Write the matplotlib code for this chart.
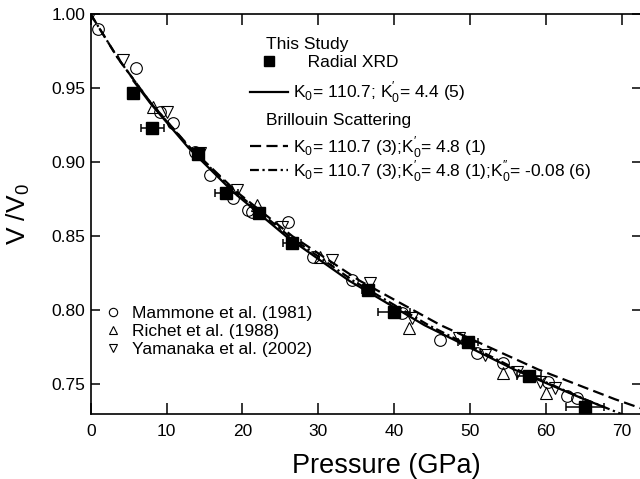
import numpy as np
import matplotlib.pyplot as plt
from matplotlib.lines import Line2D

plt.rcParams['font.family'] = ['Liberation Sans', 'DejaVu Sans']
plt.rcParams['mathtext.fontset'] = 'custom'
plt.rcParams['mathtext.rm'] = 'Liberation Sans'

# Radial XRD (this study), P in GPa with horizontal error
xrd_p = [5.6, 8.1, 14.2, 17.9, 22.2, 26.5, 36.5, 40.0, 49.7, 57.8, 65.2]
xrd_v = [0.947, 0.9234, 0.9056, 0.879, 0.8658, 0.8453, 0.8140, 0.7988, 0.7788, 0.7560, 0.7345]
xrd_perr = [0.0, 1.5, 0.4, 1.5, 0.5, 1.2, 0.8, 2.1, 1.3, 1.6, 2.5]

# literature data
mam_p = [0.9, 6.0, 9.1, 10.9, 13.75, 15.75, 18.8, 20.8, 21.2, 26.05, 29.35, 34.4,
         41.0, 46.05, 50.9, 54.4, 60.3, 62.75, 64.1]
mam_v = [0.990, 0.9635, 0.9342, 0.9268, 0.9072, 0.8914, 0.8757, 0.8678, 0.8666, 0.860,
         0.8362, 0.8205, 0.798, 0.780, 0.771, 0.7642, 0.7518, 0.742, 0.741]
ric_p = [8.2, 21.9, 30.2, 42.0, 54.3, 60.0]
ric_v = [0.9372, 0.8711, 0.836, 0.7878, 0.7574, 0.7439]
yam_p = [0.0, 4.3, 10.1, 14.4, 19.25, 25.2, 31.8, 36.8, 42.3, 48.5, 52.0, 56.2, 59.2, 61.2]
yam_v = [1.0, 0.969, 0.934, 0.906, 0.8813, 0.8565, 0.834, 0.8182, 0.7946, 0.7811,
         0.7698, 0.7585, 0.7518, 0.7473]

# EOS curves
fit_v = [1.0, 0.97, 0.94, 0.91, 0.88, 0.85, 0.82, 0.79, 0.76, 0.74, 0.73, 0.725]
solid_v = [0.955, 0.94, 0.91, 0.88, 0.85, 0.82, 0.79, 0.76, 0.74, 0.735]
solid_p = [5.64, 7.85, 12.86, 18.77, 25.77, 34.08, 43.99, 55.84, 65.04, 67.52]
dash_p = [0.0, 3.63, 7.95, 13.10, 19.26, 26.62, 35.47, 46.13, 59.02, 69.10, 74.67, 77.5]
dashdot_p = [0.0, 3.63, 7.93, 13.03, 19.06, 26.19, 34.61, 44.53, 56.21, 65.11, 69.95, 72.46]

W, H = 640, 479
fig = plt.figure(figsize=(W / 100, H / 100), dpi=100)
ax_l, ax_r, ax_t, ax_b = 90.7, 641.0, 14.3, 414.0
ax = fig.add_axes([ax_l / W, 1 - ax_b / H, (ax_r - ax_l) / W, (ax_b - ax_t) / H])


def pos(px, py):
    # pixel -> axes fraction
    return (px - ax_l) / (ax_r - ax_l), (ax_b - py) / (ax_b - ax_t)


lw = 1.6
l_solid, = ax.plot(solid_p, solid_v, color='black', lw=lw, zorder=2)
l_dash, = ax.plot(dash_p, fit_v, color='black', lw=lw, ls=(0, (5, 2.4)), zorder=2)
l_dd, = ax.plot(dashdot_p, fit_v, color='black', lw=lw, ls=(0, (4, 1.6, 1, 1.6)), zorder=2)

h_mam, = ax.plot(mam_p, mam_v, 'o', ms=8.4, mfc='none', mec='black', mew=0.8, zorder=3)
h_ric, = ax.plot(ric_p, ric_v, '^', ms=8.6, mfc='none', mec='black', mew=0.8, zorder=3)
h_yam, = ax.plot(yam_p, yam_v, 'v', ms=8.6, mfc='none', mec='black', mew=0.8, zorder=3)
ax.errorbar(xrd_p, xrd_v, xerr=xrd_perr, fmt='s', ms=8, color='black',
            elinewidth=1.1, capsize=2.9, capthick=1.1, zorder=4)

ax.set_xlim(0, (ax_r - ax_l) / 7.586)
ax.set_ylim(0.73, 1.0)
ax.set_xticks(np.arange(0, 80, 10))
ax.set_yticks([0.75, 0.80, 0.85, 0.90, 0.95, 1.00])
ax.set_yticklabels(['0.75', '0.80', '0.85', '0.90', '0.95', '1.00'])
ax.tick_params(axis='both', labelsize=12.5, width=1.1, color='black')
ax.tick_params(axis='x', direction='in', length=8, top=True, pad=7)
ax.tick_params(axis='y', direction='in', length=6.5, right=True, pad=4)
ax.spines['right'].set_visible(False)
for s in ['left', 'bottom', 'top']:
    ax.spines[s].set_linewidth(1.2)

ax.set_xlabel('Pressure (GPa)', fontsize=19.5, va='top')
ax.xaxis.set_label_coords(0.537, -0.098)
ax.set_ylabel(r'V /V$_\mathregular{0}$', fontsize=19)
ax.yaxis.set_label_coords(-0.106, 0.5)

# legend blocks
fs = 12.5
k0 = r'K$_\mathregular{0}$'
k1 = r'K$_\mathregular{0}^{\prime}$'
k2 = r'K$_\mathregular{0}^{\prime\prime}$'
ax.text(*pos(266, 44), 'This Study', fontsize=fs, va='center', transform=ax.transAxes)
ax.text(*pos(266, 121), 'Brillouin Scattering', fontsize=fs, va='center', transform=ax.transAxes)

sq = Line2D([], [], marker='s', ls='none', color='black', ms=7)
leg1 = ax.legend([sq, l_solid], ['   Radial XRD', k0 + '= 110.7; ' + k1 + '= 4.4 (5)'],
                 loc='upper left', bbox_to_anchor=pos(250, 55), frameon=False, fontsize=fs,
                 borderpad=0, borderaxespad=0, handlelength=2.2, handletextpad=0.3,
                 labelspacing=0.55)
ax.add_artist(leg1)
leg2 = ax.legend([l_dash, l_dd],
                 [k0 + '= 110.7 (3);' + k1 + '= 4.8 (1)',
                  k0 + '= 110.7 (3);' + k1 + '= 4.8 (1);' + k2 + '= -0.08 (6)'],
                 loc='upper left', bbox_to_anchor=pos(250, 134), frameon=False, fontsize=fs,
                 borderpad=0, borderaxespad=0, handlelength=2.2, handletextpad=0.3,
                 labelspacing=-0.08)
ax.add_artist(leg2)
mk = dict(ls='none', mfc='none', mec='black', mew=0.8, ms=6)
leg3 = ax.legend([Line2D([], [], marker='o', **mk), Line2D([], [], marker='^', **mk),
                  Line2D([], [], marker='v', **mk)],
                 ['Mammone et al. (1981)', 'Richet et al. (1988)', 'Yamanaka et al. (2002)'],
                 loc='upper left', bbox_to_anchor=pos(104, 306), frameon=False, fontsize=fs,
                 borderpad=0, borderaxespad=0, handlelength=1.0, handletextpad=0.6,
                 labelspacing=0.15)

fig.savefig('out.png', dpi=100)
